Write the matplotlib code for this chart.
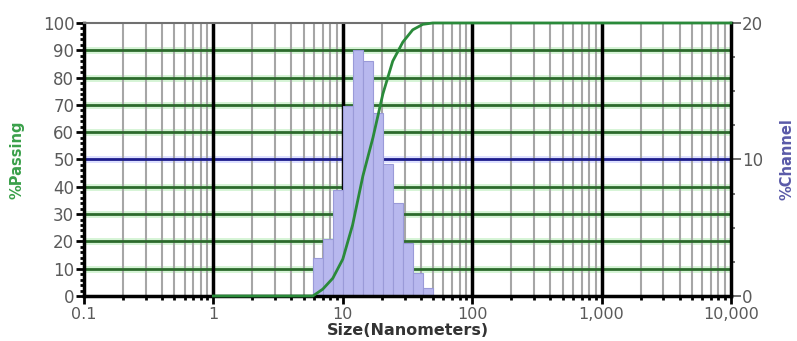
import matplotlib.pyplot as plt
import numpy as np
from matplotlib.ticker import FixedLocator, FuncFormatter, MultipleLocator

# channel edges (nm) and % in each channel
edges = [5.87, 7.00, 8.37, 10.0, 11.9, 14.3, 17.1, 20.4, 24.3, 29.1, 34.7, 41.5, 49.6]
channel = [2.8, 4.2, 7.8, 13.9, 18.0, 17.2, 13.4, 9.7, 6.8, 3.9, 1.7, 0.6]

# cumulative % passing
size_pass = [1, 5.87, 7.00, 8.37, 10.0, 11.9, 14.3, 17.1, 20.4, 24.3, 29.1, 34.7, 41.5, 49.6, 10000]
passing = [0, 0, 2.5, 6.5, 13.5, 26, 44, 58, 74, 86, 93, 97.5, 99.5, 100, 100]

xticks = [0.1, 1, 10, 100, 1000, 10000]
xlabels = ['0.1', '1', '10', '100', '1,000', '10,000']

plt.rcParams['font.family'] = ['DejaVu Sans']

fig = plt.figure(figsize=(7.97, 3.41), dpi=100)
ax = fig.add_axes([0.1054, 0.132, 0.8118, 0.8006])
ax2 = ax.twinx()
ax.set_zorder(ax2.get_zorder() + 1)
ax.patch.set_visible(False)

ax.set_xscale('log')
ax.set_xlim(0.1, 10000)
ax.set_ylim(0, 100)
ax2.set_ylim(0, 20)

# grid goes on the lower axes so the bars sit over it
ytr = ax.get_yaxis_transform()
for v in range(10, 100, 10):
    if v == 50:
        ax2.plot([0, 1], [v, v], transform=ytr, color='#dde0ff', lw=5, zorder=1)
        ax2.plot([0, 1], [v, v], transform=ytr, color='#1c1c8c', lw=2, zorder=1.2)
    else:
        ax2.plot([0, 1], [v, v], transform=ytr, color='#d6f4d6', lw=5, zorder=1)
        ax2.plot([0, 1], [v, v], transform=ytr, color='#2c6a2c', lw=2, zorder=1.2)

for d in [0.1, 1, 10, 100, 1000]:
    for m in range(2, 10):
        ax2.axvline(d * m, color='#a6a6a6', lw=1.5, zorder=1.1)
for d in [1, 10, 100, 1000]:
    ax2.axvline(d, color='black', lw=2.5, zorder=1.3)

# channel histogram
lefts = np.array(edges[:-1])
widths = np.diff(edges)
ax2.bar(lefts, channel, width=widths, align='edge', color='#b8b8ee',
        edgecolor='#9a9ad8', lw=0.8, zorder=2)

# passing curve
ax.plot(size_pass, passing, color='#2a8a3a', lw=2, zorder=3,
        solid_joinstyle='round', clip_on=False)

# axes styling
for s in ['left', 'bottom', 'right']:
    ax.spines[s].set_linewidth(2.5)
ax.spines['top'].set_linewidth(1.5)
ax.spines['top'].set_color('#707070')
for s in ax2.spines.values():
    s.set_visible(False)

ax.xaxis.set_major_locator(FixedLocator(xticks))
ax.xaxis.set_major_formatter(FuncFormatter(lambda v, p: xlabels[xticks.index(v)] if v in xticks else ''))
ax.xaxis.set_minor_locator(FixedLocator([d * m for d in [0.1, 1, 10, 100, 1000] for m in range(2, 10)]))
ax.xaxis.set_minor_formatter(FuncFormatter(lambda v, p: ''))

ax.yaxis.set_major_locator(MultipleLocator(10))
ax.yaxis.set_minor_locator(MultipleLocator(2))
ax2.yaxis.set_major_locator(MultipleLocator(10))
ax2.yaxis.set_minor_locator(MultipleLocator(2.5))

ax.tick_params(which='major', length=6, width=2, colors='black', labelcolor='#5a5a5a',
               labelsize=12, pad=1)
ax.tick_params(axis='x', which='major', labelsize=11.5, pad=2)
ax.tick_params(which='minor', length=3, width=2, colors='black')
ax2.tick_params(which='major', length=7, width=1.2, colors='#555555', labelcolor='#5a5a5a',
                labelsize=12, pad=1)
ax2.tick_params(which='minor', length=3, width=1.2, colors='#555555')

ax.set_ylabel('%Passing', color='#3aa04a', fontsize=10.5, fontweight='bold', labelpad=13)
ax2.set_ylabel('%Channel', color='#5a5aa8', fontsize=10.5, fontweight='bold', labelpad=12)
ax.set_xlabel('Size(Nanometers)', color='#333333', fontsize=11.5, fontweight='bold', labelpad=1)

fig.savefig('out.png', dpi=100)
